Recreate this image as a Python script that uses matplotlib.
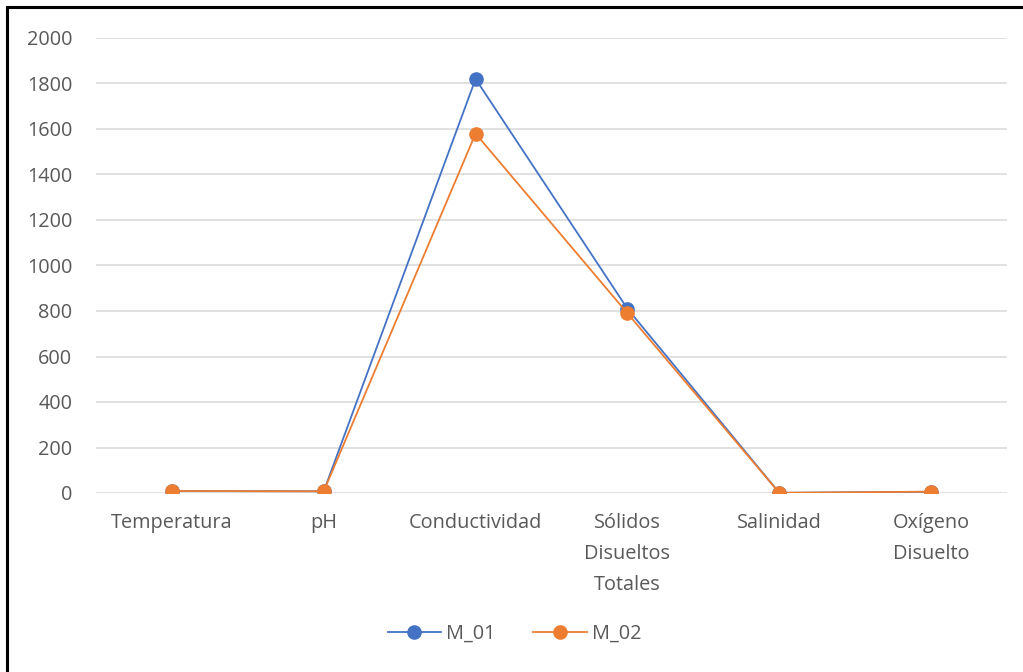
import matplotlib.pyplot as plt
from matplotlib.patches import Rectangle

# parameters measured for each sample
categories = ["Temperatura", "pH", "Conductividad", "Sólidos\nDisueltos\nTotales",
              "Salinidad", "Oxígeno\nDisuelto"]
m_01 = [8.5, 7.5, 1820, 810, 0.9, 5.5]
m_02 = [8.7, 7.6, 1580, 790, 0.8, 5.8]
y_ticks = [0, 200, 400, 600, 800, 1000, 1200, 1400, 1600, 1800, 2000]

plt.rcParams['font.family'] = ['Open Sans', 'DejaVu Sans']
txt = "#595959"

fig = plt.figure(figsize=(10.23, 6.72), dpi=100)
ax = fig.add_axes([96 / 1023, 1 - 493 / 672, (1007 - 96) / 1023, (493 - 38) / 672])

x = list(range(len(categories)))
ax.plot(x, m_01, color="#4472C4", lw=1.3, marker="o", ms=9.5, label="M_01", zorder=3)
ax.plot(x, m_02, color="#ED7D31", lw=1.3, marker="o", ms=9.5, label="M_02", zorder=4)

ax.set_xlim(-0.5, len(categories) - 0.5)
ax.set_ylim(0, 2000)
ax.set_yticks(y_ticks)
ax.set_xticks(x)
ax.set_xticklabels(categories, linespacing=1.72)
ax.tick_params(length=0, labelsize=14.3, colors=txt)
ax.tick_params(axis="y", pad=17)
ax.tick_params(axis="x", pad=14.5)
ax.grid(axis="y", color="#D9D9D9", lw=1.1)
ax.set_axisbelow(True)
for s in ax.spines.values():
    s.set_visible(False)

leg = fig.legend(loc="center", bbox_to_anchor=(0.503, 1 - 634 / 672), ncol=2, frameon=False,
                 fontsize=14.3, handlelength=2.7, columnspacing=1.9, handletextpad=0.25)
for t in leg.get_texts():
    t.set_color(txt)

# outer frame of the screenshot
fig.patches.append(Rectangle((7 / 1023, -0.1), 2, 1.1 - 7 / 672, transform=fig.transFigure,
                             fill=False, ec="black", lw=2.2))

fig.savefig("out.png", dpi=100)
